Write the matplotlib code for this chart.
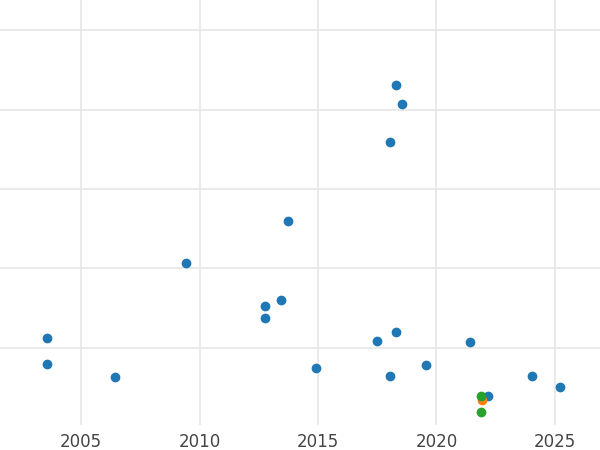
import matplotlib
matplotlib.use("Agg")
import matplotlib.pyplot as plt

blue_x = [2003.56, 2003.56, 2006.43, 2009.43, 2012.76, 2012.76, 2013.44, 2013.73, 2014.91,
          2017.49, 2018.04, 2018.29, 2018.54, 2018.29, 2018.04, 2019.56, 2021.41, 2022.17,
          2024.03, 2025.21]
blue_y = [1.12, 0.79, 0.63, 2.07, 1.53, 1.37, 1.60, 2.59, 0.74,
          1.08, 3.59, 4.31, 4.07, 1.20, 0.64, 0.78, 1.07, 0.39,
          0.64, 0.50]
orange_x = [2021.92]
orange_y = [0.34]
green_x = [2021.88, 2021.88]
green_y = [0.39, 0.19]

fig = plt.figure(figsize=(6, 4.5), dpi=100)
ax = fig.add_axes([0, 0.0556, 1, 0.9444])
ax.scatter(blue_x, blue_y, color="#1f77b4", s=36, zorder=3)
ax.scatter(orange_x, orange_y, color="#ff7f0e", s=36, zorder=3)
ax.scatter(green_x, green_y, color="#2ca02c", s=36, zorder=4)
ax.set_xlim(2001.58, 2026.9)
ax.set_ylim(0.025, 5.38)
ax.set_xticks([2005, 2010, 2015, 2020, 2025])
ax.set_yticks([1, 2, 3, 4, 5])
ax.set_yticklabels([])
ax.grid(True, color="#e6e6e6", linewidth=1.2, zorder=0)
ax.set_axisbelow(True)
for s in ax.spines.values():
    s.set_visible(False)
ax.tick_params(length=0, labelsize=12, labelcolor="#444444", pad=6)
fig.savefig("out.png", dpi=100)
